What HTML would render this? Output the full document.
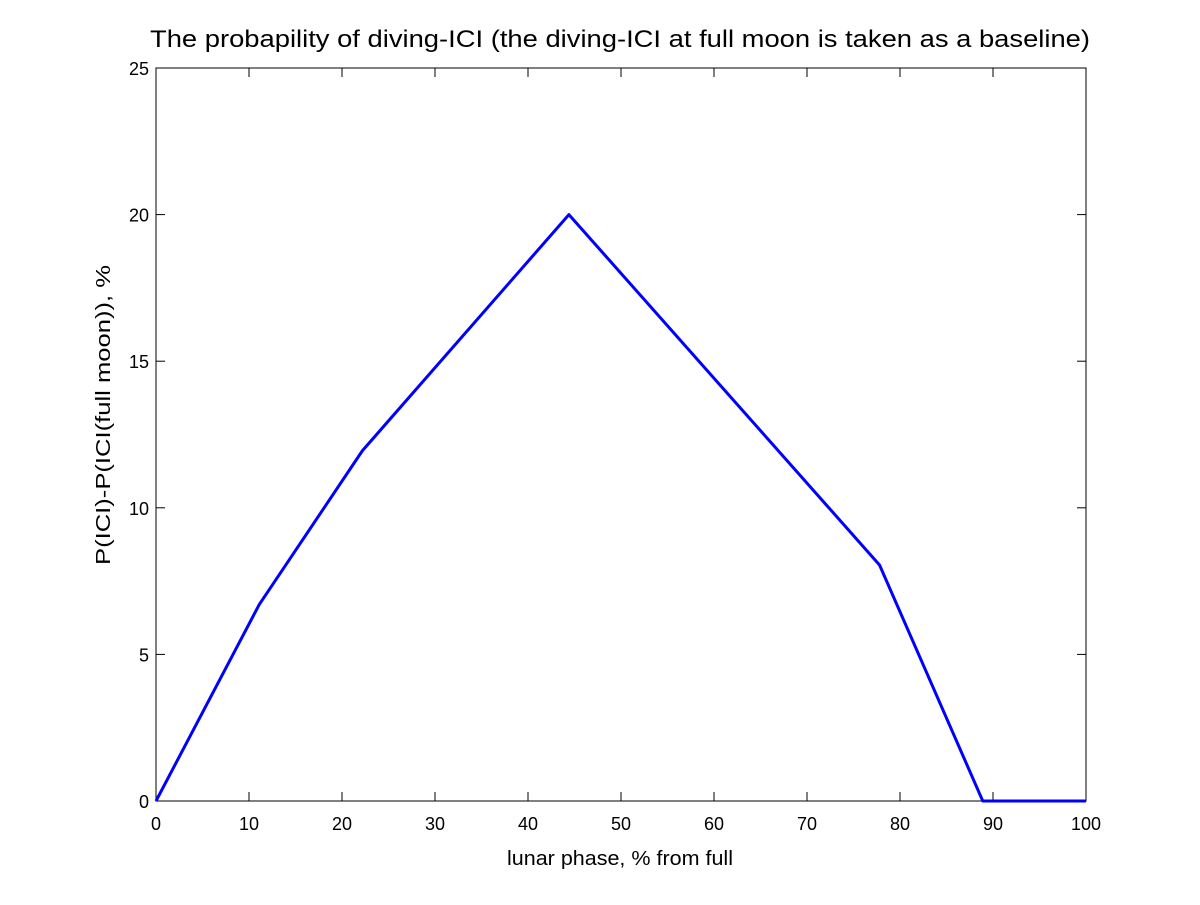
<!DOCTYPE html>
<html><head><meta charset="utf-8"><style>
body{margin:0;background:#fff;}
svg text{font-family:"Liberation Sans",sans-serif;font-size:18px;fill:#000;}
</style></head><body>
<svg width="1200" height="900" id="c">
<rect width="1200" height="900" fill="#fff"/>
<text x="150" y="47" textLength="940" lengthAdjust="spacingAndGlyphs" style="font-size:24px">The probapility of diving-ICI (the diving-ICI at full moon is taken as a baseline)</text>
<text x="507" y="865" textLength="226" lengthAdjust="spacingAndGlyphs" style="font-size:20px">lunar phase, % from full</text>
<text transform="translate(110,565) rotate(-90)" textLength="300" lengthAdjust="spacingAndGlyphs" style="font-size:20px">P(ICI)-P(ICI(full moon)), %</text>
<rect x="156" y="68" width="930" height="733" fill="none" stroke="#000" stroke-width="1"/>
<g id="ticks"></g>
<polyline id="line" fill="none" stroke="#0000ff" stroke-width="3" stroke-linejoin="round"/>
</svg>
<script>
const xs=[0,11.1,22.2,44.4,77.8,88.9,100];
const ys=[0,6.7,11.95,20,8.05,0,0];
const xTicks=[0,10,20,30,40,50,60,70,80,90,100];
const yTicks=[0,5,10,15,20,25];
const L=156,R=1086,T=68,B=801;
const sx=v=>L+(v/100)*(R-L), sy=v=>B-(v/25)*(B-T);
const NS="http://www.w3.org/2000/svg";
const g=document.getElementById('ticks');
function mk(t,a){const e=document.createElementNS(NS,t);for(const k in a)e.setAttribute(k,a[k]);g.appendChild(e);return e;}
xTicks.forEach(v=>{const x=sx(v);
const l1=mk('line',{x1:x,x2:x,y1:B,y2:B-9,stroke:'#000'});


const l2=mk('line',{x1:x,x2:x,y1:T,y2:T+9,stroke:'#000'});


const t=mk('text',{x:x,y:B+29,'text-anchor':'middle'});t.textContent=v;

});
yTicks.forEach(v=>{const y=sy(v);
const l1=mk('line',{x1:L,x2:L+9,y1:y,y2:y,stroke:'#000'});


const l2=mk('line',{x1:R,x2:R-9,y1:y,y2:y,stroke:'#000'});


const t=mk('text',{x:L-7,y:y+7,'text-anchor':'end'});t.textContent=v;

});
document.getElementById('line').setAttribute('points',xs.map((x,i)=>sx(x)+','+sy(ys[i])).join(' '));
</script>
</body></html>
